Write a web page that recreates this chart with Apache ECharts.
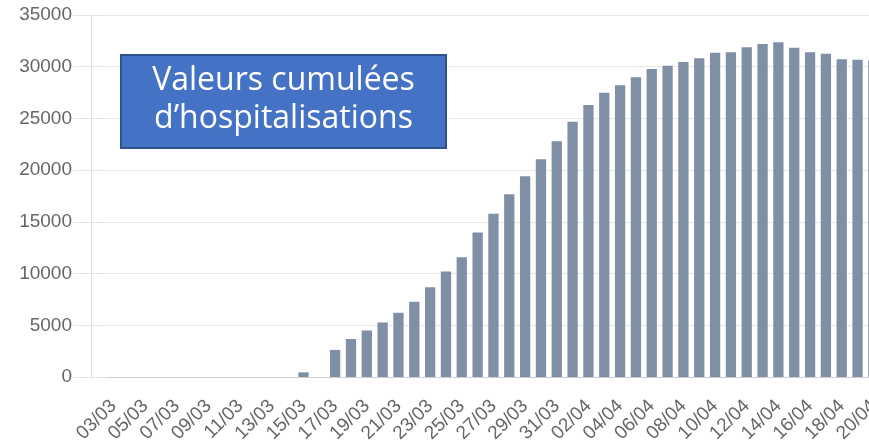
<!DOCTYPE html>
<html>
<head>
<meta charset="utf-8">
<script src="https://cdn.jsdelivr.net/npm/echarts@6/dist/echarts.min.js"></script>
<style>
  html, body { margin: 0; padding: 0; background: #fff; overflow: hidden; }
  /* the plot runs on past the right edge of the window */
  #chart { width: 890px; height: 442px; }
</style>
</head>
<body>
<div id="chart"></div>
<script>
// Daily categories (dd/mm)
const days = [
  '03/03','04/03','05/03','06/03','07/03','08/03','09/03','10/03','11/03','12/03',
  '13/03','14/03','15/03','16/03','17/03','18/03','19/03','20/03','21/03','22/03',
  '23/03','24/03','25/03','26/03','27/03','28/03','29/03','30/03','31/03','01/04',
  '02/04','03/04','04/04','05/04','06/04','07/04','08/04','09/04','10/04','11/04',
  '12/04','13/04','14/04','15/04','16/04','17/04','18/04','19/04','20/04'
];

// Cumulative hospitalisations per day
const hospitalisations = [
  0, 0, 0, 0, 0, 0, 0, 0, 0, 0,
  0, 0, 450, 0, 2620, 3670, 4500, 5270, 6210, 7270,
  8670, 10200, 11590, 13970, 15780, 17680, 19420, 21060, 22800, 24690,
  26300, 27490, 28210, 28980, 29780, 30100, 30460, 30810, 31360, 31390,
  31880, 32200, 32360, 31840, 31390, 31260, 30720, 30680, 30620
];

// Value axis ticks
const yMin = 0;
const yMax = 35000;
const yStep = 5000;

const boxTitle = 'Valeurs cumulées\nd\u2019hospitalisations';

const chart = echarts.init(document.getElementById('chart'), null, { renderer: 'canvas' });

const gridLeft = 105.6;
const gridWidth = 775.7;
const axisGap = gridLeft - 91; // y axis line sits a little left of the first band

chart.setOption({
  animation: false,
  backgroundColor: '#ffffff',
  grid: {
    left: gridLeft, width: gridWidth, top: 15, bottom: 65,
    containLabel: false,
    outerBoundsMode: 'none'
  },
  xAxis: {
    type: 'category',
    data: days,
    boundaryGap: true,
    axisLine: { show: true, lineStyle: { color: '#cfcfcf', width: 1 } },
    axisTick: { show: false },
    splitLine: { show: false },
    axisLabel: {
      interval: 1,
      rotate: 45,
      margin: 26,
      color: '#666666',
      fontFamily: '"Liberation Sans", Arial, sans-serif',
      fontSize: 19
    }
  },
  yAxis: [
    {
      type: 'value',
      position: 'left',
      offset: axisGap,
      min: yMin, max: yMax, interval: yStep,
      axisLine: { show: true, lineStyle: { color: '#e0e0e0', width: 1 } },
      axisTick: { show: true, length: 18, lineStyle: { color: '#e3e3e3', width: 1 } },
      splitLine: { show: true, lineStyle: { color: '#e6e6e6', width: 1 } },
      axisLabel: {
        margin: 19,
        color: '#666666',
        fontFamily: '"Liberation Sans", Arial, sans-serif',
        fontSize: 19,
        formatter: (v) => String(v)
      }
    },
    {
      // short connectors that carry each grid line across to the axis line
      type: 'value',
      position: 'left',
      offset: 0,
      min: yMin, max: yMax, interval: yStep,
      axisLine: { show: false },
      axisTick: { show: true, length: axisGap, lineStyle: { color: '#e3e3e3', width: 1 } },
      splitLine: { show: false },
      axisLabel: { show: false }
    }
  ],
  series: [
    {
      type: 'bar',
      data: hospitalisations,
      yAxisIndex: 0,
      barCategoryGap: '35%',
      itemStyle: { color: '#7e8fa6' }
    }
  ],
  graphic: [
    {
      type: 'group',
      left: 120,
      top: 54,
      z: 100,
      children: [
        {
          type: 'rect',
          z: 100,
          shape: { x: 0, y: 0, width: 325, height: 93 },
          style: { fill: '#4472c4', stroke: '#2f528f', lineWidth: 2 }
        },
        {
          type: 'text',
          z: 101,
          x: 162.5,
          y: 45,
          style: {
            text: boxTitle,
            fill: '#ffffff',
            font: '32px "Open Sans", Lato, sans-serif',
            lineHeight: 38,
            align: 'center',
            verticalAlign: 'middle'
          }
        }
      ]
    }
  ]
});
</script>
</body>
</html>
